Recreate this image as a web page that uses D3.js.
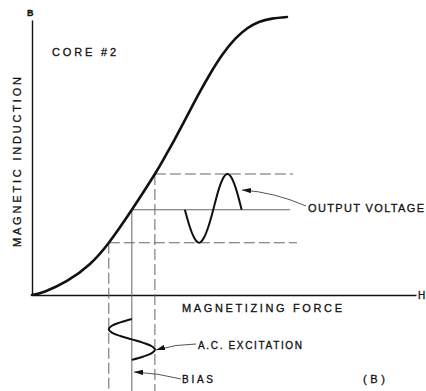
<!DOCTYPE html>
<html>
<head>
<meta charset="utf-8">
<script src="https://cdn.jsdelivr.net/npm/d3@7"></script>
<style>
  html, body { margin: 0; padding: 0; background: #ffffff; }
  svg { display: block; }
  text { font-family: "Liberation Sans", Arial, sans-serif; fill: #111; stroke: #111; stroke-width: 0.3px; }
</style>
</head>
<body>
<svg id="chart" width="426" height="391"></svg>
<script>
// ---- data ----
// magnetisation curve (H = magnetizing force, B = magnetic induction)
const curveH = [0, 0.34, 0.91, 1.51, 2.0, 2.6, 3.2, 3.46, 3.72, 4.04, 4.35, 4.66, 4.97, 5.29, 5.6, 5.91, 6.25, 6.64];
const curveB = [0, 0.13, 0.51, 1.13, 1.9, 3.1, 4.4, 5.02, 5.67, 6.51, 7.33, 8.09, 8.76, 9.31, 9.69, 9.93, 10.05, 10.11];
// operating point: bias and a.c. excitation swing
const hLevels = [2.0, 2.6, 3.2];       // low, bias, high
const bLevels = [1.9, 3.1, 4.4];       // corresponding induction
// waveforms, sampled every 30 degrees of phase
const phase = [0, 30, 60, 90, 120, 150, 180, 210, 240, 270, 300, 330, 360];
const outputB = [3.1, 2.5, 2.07, 1.9, 2.07, 2.5, 3.1, 3.75, 4.22, 4.4, 4.22, 3.75, 3.1];
const excitationH = [2.6, 2.3, 2.08, 2.0, 2.08, 2.3, 2.6, 2.9, 3.12, 3.2, 3.12, 2.9, 2.6];
// labels
const axisLabels = { y: "MAGNETIC INDUCTION", x: "MAGNETIZING FORCE", yEnd: "B", xEnd: "H" };
const notes = ["CORE #2", "OUTPUT VOLTAGE", "A.C. EXCITATION", "BIAS", "(B)"];

// ---- scales ----
const svg = d3.select("#chart");
const x = d3.scaleLinear().domain([0, 10]).range([32, 416]);
const y = d3.scaleLinear().domain([0, 10]).range([295, 20]);
// time scales for the two waveforms
const tOut = d3.scaleLinear().domain([0, 360]).range([x(3.98), x(5.46)]);
const tExc = d3.scaleLinear().domain([0, 360]).range([y(-0.87), y(-2.36)]);
const bottomB = -3.6;

const ink = "#111";
const thin = "#666";

// ---- axes ----
const xAxis = d3.axisBottom(x).tickValues([]).tickSizeOuter(0);
const yAxis = d3.axisLeft(y).tickValues([]).tickSizeOuter(0);
svg.append("g").attr("transform", `translate(0,${y(0)})`).call(xAxis)
  .select(".domain").attr("stroke", ink).attr("stroke-width", 1.4);
svg.append("g").attr("transform", `translate(${x(0)},0)`).call(yAxis)
  .select(".domain").attr("stroke", ink).attr("stroke-width", 1.4);

// ---- guide lines ----
const guides = svg.append("g").attr("fill", "none");
const dash = "11,4";
// verticals from curve down past axis
hLevels.forEach((h, i) => {
  guides.append("line")
    .attr("x1", x(h)).attr("x2", x(h))
    .attr("y1", y(bLevels[i])).attr("y2", y(bottomB))
    .attr("stroke", thin).attr("stroke-width", 1)
    .attr("stroke-dasharray", i === 1 ? null : dash);
});
// horizontals from curve to the right
const hEnds = [6.9, 6.72, 6.8];
bLevels.forEach((b, i) => {
  guides.append("line")
    .attr("x1", x(hLevels[i])).attr("x2", x(hEnds[i]))
    .attr("y1", y(b)).attr("y2", y(b))
    .attr("stroke", thin).attr("stroke-width", 1)
    .attr("stroke-dasharray", i === 1 ? null : dash);
});

// ---- magnetisation curve ----
const curvePts = curveH.map((h, i) => [x(h), y(curveB[i])]);
svg.append("path")
  .attr("d", d3.line().curve(d3.curveNatural)(curvePts))
  .attr("fill", "none").attr("stroke", ink).attr("stroke-width", 2.6)
  .attr("stroke-linecap", "round");

// ---- waveforms ----
const outPts = phase.map((p, i) => [tOut(p), y(outputB[i])]);
svg.append("path")
  .attr("d", d3.line().curve(d3.curveNatural)(outPts))
  .attr("fill", "none").attr("stroke", ink).attr("stroke-width", 2);

const excPts = phase.map((p, i) => [x(excitationH[i]), tExc(p)]);
svg.append("path")
  .attr("d", d3.line().curve(d3.curveCatmullRom.alpha(0.5))(excPts))
  .attr("fill", "none").attr("stroke", ink).attr("stroke-width", 2);

// ---- arrows ----
const defs = svg.append("defs");
defs.append("marker").attr("id", "arr")
  .attr("viewBox", "0 0 10 6").attr("refX", 10).attr("refY", 3)
  .attr("markerWidth", 9).attr("markerHeight", 5.5)
  .attr("markerUnits", "userSpaceOnUse").attr("orient", "auto")
  .append("path").attr("d", "M0,0 L10,3 L0,6 Z").attr("fill", ink);

function leader(x0, y0, cx, cy, x1, y1) {
  const p = d3.path();
  p.moveTo(x0, y0);
  p.quadraticCurveTo(cx, cy, x1, y1);
  svg.append("path").attr("d", p.toString())
    .attr("fill", "none").attr("stroke", "#555").attr("stroke-width", 1)
    .attr("marker-end", "url(#arr)");
}
leader(306, 206, 274, 192, 242, 190);
leader(196, 344, 176, 344, 156, 350);
leader(181, 379, 158, 373, 134, 372);

// ---- text ----
function label(t, xx, yy, len, size, opts = {}) {
  const el = svg.append("text").text(t)
    .attr("x", xx).attr("y", yy)
    .attr("font-size", size)
    .attr("textLength", len).attr("lengthAdjust", "spacing");
  if (opts.anchor) el.attr("text-anchor", opts.anchor);
  if (opts.weight) el.attr("font-weight", opts.weight);
  return el;
}
label(axisLabels.yEnd, 27, 16, 7, 9, { weight: "bold" });
label(axisLabels.xEnd, 418, 299, 7, 10);
label(notes[0], 52, 56, 64, 11);
svg.append("text").text(axisLabels.y)
  .attr("font-size", 11)
  .attr("textLength", 170).attr("lengthAdjust", "spacing")
  .attr("text-anchor", "middle")
  .attr("transform", "translate(21,162) rotate(-90)");
label(notes[1], 308, 212, 116, 11);
label(axisLabels.x, 182, 312, 160, 11);
label(notes[2], 198, 349, 104, 10);
label(notes[3], 182, 383, 31, 10);
label(notes[4], 363, 383, 22, 11);
</script>
</body>
</html>
